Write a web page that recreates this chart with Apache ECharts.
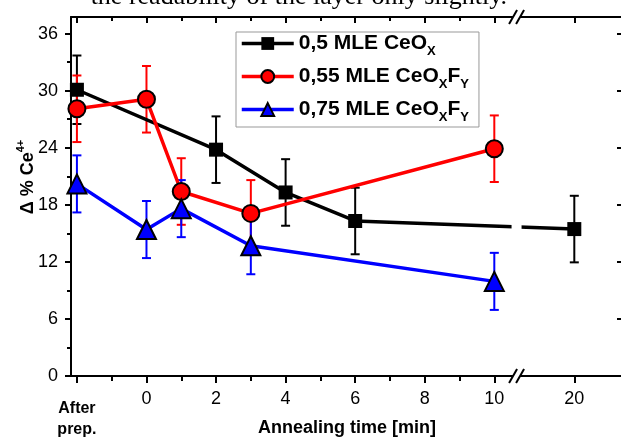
<!DOCTYPE html>
<html>
<head>
<meta charset="utf-8">
<script src="https://cdn.jsdelivr.net/npm/echarts@6/dist/echarts.min.js"></script>
<style>
  html, body { margin: 0; padding: 0; background: #fff; }
  #chart { width: 621px; height: 437px; }
</style>
</head>
<body>
<div id="chart"></div>
<script>
// Ce4+ change vs annealing time, three CeOx / CeOxFy layers.
// 'prep' = after preparation (left of 0 on the time axis).
var timesCeOx = ['prep', 2, 4, 6, 20];
var valuesCeOx = [30.1, 23.8, 19.3, 16.3, 15.45];
var errorsCeOx = [3.6, 3.5, 3.5, 3.5, 3.5];

var timesCeOxFy055 = ['prep', 0, 1, 3, 10];
var valuesCeOxFy055 = [28.1, 29.1, 19.4, 17.1, 23.9];
var errorsCeOxFy055 = [3.5, 3.5, 3.5, 3.5, 3.5];

var timesCeOxFy075 = ['prep', 0, 1, 3, 10];
var valuesCeOxFy075 = [20.2, 15.4, 17.6, 13.7, 9.95];
var errorsCeOxFy075 = [3.0, 3.0, 3.0, 3.0, 3.0];

var seriesNames = ['0,5 MLE CeOx', '0,55 MLE CeOxFy', '0,75 MLE CeOxFy'];
var legendLabels = [
  '{n|0,5 MLE CeO}{s|X}',
  '{n|0,55 MLE CeO}{s|X}{n|F}{s|Y}',
  '{n|0,75 MLE CeO}{s|X}{n|F}{s|Y}'
];

var xTickTimes = ['prep', 0, 2, 4, 6, 8, 10, 20];
var xLabelTimes = [0, 2, 4, 6, 8, 10, 20];
var xMinorTimes = [-1, 1, 3, 5, 7, 9];
var yTicks = [0, 6, 12, 18, 24, 30, 36];
var yMinorTicks = [3, 9, 15, 21, 27, 33];

var FONT = '"Liberation Sans", Arial, sans-serif';
var YMAX = 37.75;
var XMIN = -2.17, XMAX = 13.7;

// broken time axis: "after prep." one major step left of 0, 20 min past the break
var PREP_POS = -2, BREAK_POS = 10.64, POS_20 = 12.3;
function pos(t) {
  if (t === 'prep') return PREP_POS;
  if (t <= 10) return t;
  return POS_20 + (t - 20) * 0.23;
}
function xLabel(v) {
  if (Math.abs(v - POS_20) < 1e-6) return '20';
  return String(v);
}

function errorBars(times, values, errors, color) {
  return {
    type: 'custom',
    silent: true,
    z: 1,
    data: times.map(function (t, i) {
      return [pos(t), values[i] - errors[i], values[i] + errors[i]];
    }),
    encode: { x: 0, y: [1, 2] },
    renderItem: function (params, api) {
      var lo = api.coord([api.value(0), api.value(1)]);
      var hi = api.coord([api.value(0), api.value(2)]);
      var hw = 4.5;
      var st = { stroke: color, lineWidth: 2 };
      return {
        type: 'group',
        children: [
          { type: 'line', shape: { x1: lo[0], y1: lo[1], x2: hi[0], y2: hi[1] }, style: st },
          { type: 'line', shape: { x1: lo[0] - hw, y1: lo[1], x2: lo[0] + hw, y2: lo[1] }, style: st },
          { type: 'line', shape: { x1: hi[0] - hw, y1: hi[1], x2: hi[0] + hw, y2: hi[1] }, style: st }
        ]
      };
    }
  };
}

function lineSeries(name, times, values, color, symbol, size, border) {
  return {
    name: name,
    type: 'line',
    z: 3,
    data: times.map(function (t, i) { return [pos(t), values[i]]; }),
    symbol: symbol,
    symbolSize: size,
    showAllSymbol: true,
    lineStyle: { color: color, width: 3.5 },
    itemStyle: { color: color, borderColor: '#000', borderWidth: border }
  };
}

// white gap in the black line + "//" marks on both frame lines
var breakSeries = {
  type: 'custom',
  silent: true,
  z: 10,
  clip: false,
  data: [[BREAK_POS, 0]],
  encode: { x: 0, y: 1 },
  renderItem: function (params, api) {
    var b = api.coord([api.value(0), 0]);
    var t = api.coord([api.value(0), YMAX]);
    var cx = b[0];
    var kids = [{
      type: 'rect',
      shape: { x: cx - 5, y: t[1] + 8, width: 10, height: b[1] - t[1] - 16 },
      style: { fill: '#fff' }
    }];
    [b[1], t[1]].forEach(function (y) {
      kids.push({
        type: 'polygon',
        shape: { points: [[cx - 7.5, y + 7], [cx + 0.5, y - 7], [cx + 7.5, y - 7], [cx - 0.5, y + 7]] },
        style: { fill: '#fff' }
      });
      [-3.5, 3.5].forEach(function (s) {
        kids.push({
          type: 'line',
          shape: { x1: cx + s - 4, y1: y + 7, x2: cx + s + 4, y2: y - 7 },
          style: { stroke: '#000', lineWidth: 2 }
        });
      });
    });
    return { type: 'group', children: kids };
  }
};

var chart = echarts.init(document.getElementById('chart'), null, { renderer: 'canvas' });

var axisLineStyle = { color: '#000', width: 2 };

chart.setOption({
  animation: false,
  backgroundColor: '#fff',
  textStyle: { fontFamily: FONT },
  grid: { left: 71, top: 17, right: -2, bottom: 61, outerBoundsMode: 'none', containLabel: false },
  legend: {
    orient: 'vertical',
    left: 236,
    top: 32,
    data: seriesNames,
    formatter: function (n) { return legendLabels[seriesNames.indexOf(n)]; },
    itemWidth: 52,
    itemHeight: 16,
    itemGap: 8,
    itemTextGap: 5,
    padding: [1, 10, 3, 4],
    borderColor: '#999',
    borderWidth: 1,
    backgroundColor: '#fff',
    lineStyle: { width: 3.5 },
    textStyle: {
      fontFamily: FONT,
      fontWeight: 'bold',
      fontSize: 21,
      color: '#000',
      rich: {
        n: { fontFamily: FONT, fontWeight: 'bold', fontSize: 21, lineHeight: 21, verticalAlign: 'top', color: '#000' },
        s: { fontFamily: FONT, fontWeight: 'bold', fontSize: 13, lineHeight: 13, padding: [12, 0, 0, 0], verticalAlign: 'top', color: '#000' }
      }
    }
  },
  xAxis: [
    {
      type: 'value', position: 'bottom', min: XMIN, max: XMAX,
      name: 'Annealing time [min]',
      nameLocation: 'middle',
      nameGap: 43,
      nameMoveOverlap: false,
      nameTextStyle: { fontFamily: FONT, fontWeight: 'bold', fontSize: 18, color: '#000' },
      axisLine: { onZero: false, lineStyle: axisLineStyle },
      axisTick: { inside: false, length: 7, lineStyle: axisLineStyle, customValues: xTickTimes.map(pos) },
      axisLabel: {
        customValues: xLabelTimes.map(pos),
        formatter: xLabel,
        margin: 14,
        fontFamily: FONT, fontSize: 18, color: '#000'
      },
      splitLine: { show: false }
    },
    {
      type: 'value', position: 'bottom', min: XMIN, max: XMAX,
      axisLine: { show: false, onZero: false },
      axisTick: { inside: false, length: 5, lineStyle: axisLineStyle, customValues: xMinorTimes },
      axisLabel: {
        customValues: [PREP_POS],
        formatter: function () { return 'After\nprep.'; },
        margin: 22,
        fontFamily: FONT, fontWeight: 'bold', fontSize: 16, lineHeight: 21, color: '#000'
      },
      splitLine: { show: false }
    },
    {
      type: 'value', position: 'top', min: XMIN, max: XMAX,
      axisLine: { onZero: false, lineStyle: axisLineStyle },
      axisTick: { inside: true, length: 6, lineStyle: axisLineStyle, customValues: xTickTimes.map(pos) },
      axisLabel: { show: false },
      splitLine: { show: false }
    },
    {
      type: 'value', position: 'top', min: XMIN, max: XMAX,
      axisLine: { show: false, onZero: false },
      axisTick: { inside: true, length: 4, lineStyle: axisLineStyle, customValues: xMinorTimes },
      axisLabel: { show: false },
      splitLine: { show: false }
    }
  ],
  yAxis: [
    {
      type: 'value', position: 'left', min: 0, max: YMAX,
      axisLine: { onZero: false, lineStyle: axisLineStyle },
      axisTick: { inside: false, length: 6, lineStyle: axisLineStyle, customValues: yTicks },
      axisLabel: { customValues: yTicks, margin: 13, fontFamily: FONT, fontSize: 18, color: '#000' },
      splitLine: { show: false }
    },
    {
      type: 'value', position: 'left', min: 0, max: YMAX,
      axisLine: { show: false, onZero: false },
      axisTick: { inside: false, length: 4, lineStyle: axisLineStyle, customValues: yMinorTicks },
      axisLabel: { show: false },
      splitLine: { show: false }
    },
    {
      type: 'value', position: 'right', min: 0, max: YMAX,
      axisLine: { onZero: false, lineStyle: axisLineStyle },
      axisTick: { inside: true, length: 6, lineStyle: axisLineStyle, customValues: yTicks },
      axisLabel: { show: false },
      splitLine: { show: false }
    }
  ],
  graphic: [
    {
      type: 'text',
      x: 507, y: 10,
      style: {
        text: 'the readability of the layer only slightly.',
        fontFamily: '"Liberation Serif", "Times New Roman", serif',
        fontSize: 26,
        fill: '#000',
        align: 'right',
        verticalAlign: 'bottom'
      }
    },
    {
      type: 'text',
      x: 25, y: 177,
      rotation: Math.PI / 2,
      style: {
        text: '{m|Δ % Ce}{p|4+}',
        align: 'center',
        verticalAlign: 'middle',
        rich: {
          m: { fontFamily: FONT, fontWeight: 'bold', fontSize: 18, lineHeight: 20, padding: [4, 0, 0, 0], verticalAlign: 'top', fill: '#000' },
          p: { fontFamily: FONT, fontWeight: 'bold', fontSize: 11, lineHeight: 12, verticalAlign: 'top', fill: '#000' }
        }
      }
    }
  ],
  series: [
    errorBars(timesCeOx, valuesCeOx, errorsCeOx, '#000'),
    errorBars(timesCeOxFy055, valuesCeOxFy055, errorsCeOxFy055, '#ff0000'),
    errorBars(timesCeOxFy075, valuesCeOxFy075, errorsCeOxFy075, '#0000ff'),
    lineSeries(seriesNames[0], timesCeOx, valuesCeOx, '#000', 'rect', 14, 0),
    lineSeries(seriesNames[1], timesCeOxFy055, valuesCeOxFy055, '#ff0000', 'circle', 17, 2),
    lineSeries(seriesNames[2], timesCeOxFy075, valuesCeOxFy075, '#0000ff', 'triangle', 19, 2),
    breakSeries
  ]
});

window.addEventListener('resize', function () { chart.resize(); });
</script>
</body>
</html>
